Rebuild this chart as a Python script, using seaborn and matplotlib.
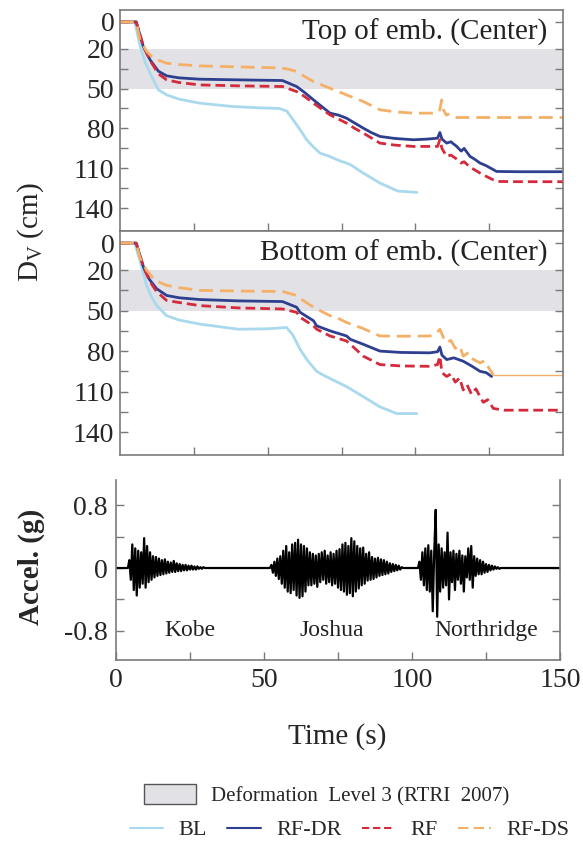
import numpy as np
import pandas as pd
import matplotlib
matplotlib.use("Agg")
import matplotlib.pyplot as plt
import seaborn as sns
from matplotlib.patches import Patch
from matplotlib.lines import Line2D

# ---- settlement, top of embankment (cm) ----
t_bl_top = [0, 5, 6.8, 8.5, 10.2, 13, 15.8, 20, 27, 38, 47, 54, 56.5, 58.6, 61, 63.2, 65.5, 67.7,
            71, 74, 77.9, 82, 85, 88, 91, 94, 97, 100.5]
d_bl_top = [0, 0, 18, 30, 38.5, 51, 54.8, 58, 61, 63.5, 64.5, 65, 67, 73.5, 81, 88.5, 94, 98.5,
            101, 104, 107, 113, 117, 121, 124, 127, 127.5, 128]

t_rf_top = [0, 5.5, 7.9, 10.2, 13, 15.8, 20, 27, 40, 55, 59.8, 62.5, 65.5, 68, 71.1, 74, 76.7, 79.5,
            82.4, 85, 88, 93, 99.3, 104, 107.5, 108.3, 109, 110.6, 112, 114, 115.5, 116.5, 118.5,
            120, 121.9, 124, 127.5, 135, 150]
d_rfdr_top = [0, 0, 18.5, 28.5, 37, 40.5, 42, 43, 43.5, 44, 48.5, 53, 58.5, 63, 68.5, 70, 72.3, 76,
              79.8, 83, 86, 87.5, 88.5, 88, 87.3, 83, 88, 91, 90, 93.5, 97, 95, 101,
              103, 106, 108, 112.3, 112.5, 112.5]
d_rf_top = [0, 0, 18, 29, 39, 43.5, 45.5, 47.3, 48, 48.5, 52.3, 56, 61, 65, 69.8, 73, 76, 80,
            83.5, 87, 91, 92.5, 93.5, 93.5, 93.5, 88.5, 95, 101, 100, 103, 106, 105, 109,
            111, 113.5, 116, 119.8, 120, 120]

t_ds_top_a = [0, 5.5, 6.8, 9, 11.3, 15.8, 20, 27, 44, 54.2, 57, 59.8, 62.5, 65.5, 71.1, 76.7, 82.4,
              88, 93, 99.3, 104, 107.2, 108.3, 108.9, 109.5, 110.5, 111.5]
d_ds_top_a = [0, 0, 13.5, 22, 27.3, 31, 32, 33, 34, 34.5, 35.5, 37.2, 41, 44.8, 49.8, 54.8, 59.8,
              66, 67.5, 68.5, 68.5, 68.5, 66, 58.5, 66, 70, 69]
t_ds_top_b = [113.4, 150]
d_ds_top_b = [71.5, 71.5]

# ---- settlement, bottom of embankment (cm) ----
t_bl_mid = [0, 5, 7, 9, 10.7, 12.4, 15.8, 20, 27, 40, 50, 56.4, 58.5, 61, 63.5, 66.6, 69, 72,
            76.7, 82.4, 88, 93.7, 100.5]
d_bl_mid = [0, 0, 15, 31.3, 40, 46.3, 53.8, 57, 60, 63.8, 63.5, 62.5, 68, 78.8, 87, 95, 98, 101.3,
            106.3, 113.8, 121.3, 126.3, 126.3]

t_rfdr_mid = [0, 5.5, 8, 10, 12.4, 15.8, 20, 27, 40, 55, 59.8, 61, 65.5, 66.6, 71.1, 76.7, 78,
              82.4, 88, 95, 104.9, 107.5, 108.3, 109, 110.6, 113, 116.2, 119, 121.9, 124, 125.8]
d_rfdr_mid = [0, 0, 18, 27, 33.8, 38.8, 40.5, 41.8, 42.8, 43.3, 47.5, 51.3, 57.5, 61.3, 65, 68.8,
              71.3, 75, 80, 81, 81.3, 80.5, 77, 83, 86.3, 85, 87.5, 91, 95, 96, 98.8]

t_rf_mid = [0, 5.5, 8, 10, 12.4, 15.8, 20, 27, 40, 55, 59.8, 61, 65.5, 66.6, 71.1, 76.7, 78, 82.4,
            88, 95, 104.9, 107.5, 108.3, 109, 110.6, 112, 113.5, 115, 116.2, 117.5, 119, 120.5,
            121.9, 123, 124.5, 126.4, 130, 150]
d_rf_mid = [0, 0, 18, 28, 36, 42.5, 44, 46.3, 48, 48.8, 51.3, 55, 61.3, 63.8, 68.8, 72.5, 75, 83.8,
            90, 91, 91.3, 90, 83.8, 96, 98.8, 97, 103, 100, 108.8, 105, 112, 108,
            113.8, 118, 116, 122.5, 123.8, 123.8]

t_ds_mid = [0, 5.5, 6.8, 9, 11.8, 15.8, 20, 27, 40, 55, 59.8, 61, 65.5, 71.1, 72, 76.7, 82, 88,
            95, 104.9, 107, 108.3, 109.5, 110.6, 112, 113.5, 115, 116.2, 118, 119.5, 121.9,
            123.5, 125, 126.4]
d_ds_mid = [0, 0, 11, 20, 27.5, 31.3, 33, 35, 35.5, 35.8, 38.8, 41, 47.5, 53.8, 53.8, 58.8, 63, 68.8,
            69, 68.8, 67, 63.8, 70, 73.8, 72, 78, 76, 83.8, 81, 86, 88.8,
            87, 93, 97.5]
t_ds_mid_tail = [126.4, 150]
d_ds_mid_tail = [97.5, 97.5]

# ---- input acceleration (g), sampled every 0.5 s inside each record ----
kobe_acc = [0.00, 0.10, -0.15, 0.30, -0.28, 0.25, -0.35, 0.22, -0.25, 0.20,
            -0.20, 0.38, -0.25, 0.28, -0.18, 0.20, -0.15, 0.15, -0.12, 0.14,
            -0.10, 0.12, -0.09, 0.10, -0.08, 0.11, -0.07, 0.08, -0.06, 0.07,
            -0.05, 0.09, -0.05, 0.06, -0.04, 0.05, -0.04, 0.04, -0.03, 0.04,
            -0.03, 0.03, -0.02, 0.03, -0.02, 0.02, -0.02, 0.02, -0.01, 0.01,
            -0.01, 0.01, 0.00]
joshua_acc = [0.00, 0.04, -0.06, 0.08, -0.10, 0.12, -0.14, 0.15, -0.20, 0.22,
              -0.25, 0.28, -0.30, 0.20, -0.32, 0.30, -0.28, 0.32, -0.35, 0.36,
              -0.38, 0.30, -0.36, 0.28, -0.30, 0.25, -0.22, 0.20, -0.22, 0.18,
              -0.20, 0.16, -0.24, 0.18, -0.18, 0.20, -0.15, 0.22, -0.20, 0.16,
              -0.18, 0.20, -0.22, 0.18, -0.20, 0.22, -0.25, 0.24, -0.28, 0.30,
              -0.30, 0.32, -0.34, 0.28, -0.32, 0.38, -0.36, 0.34, -0.30, 0.28,
              -0.26, 0.25, -0.22, 0.26, -0.20, 0.18, -0.16, 0.20, -0.15, 0.14,
              -0.14, 0.12, -0.12, 0.13, -0.10, 0.11, -0.09, 0.10, -0.08, 0.08,
              -0.07, 0.06, -0.05, 0.05, -0.04, 0.04, -0.03, 0.03, -0.02, 0.01,
              0.00]
northridge_acc = [0.00, 0.08, -0.15, 0.20, -0.22, 0.25, -0.28, 0.29, -0.30, 0.22,
                  -0.55, 0.20, 0.74, -0.62, 0.30, -0.30, 0.25, -0.25, 0.20, -0.22,
                  0.45, -0.40, 0.20, -0.18, 0.22, -0.28, 0.18, -0.15, 0.22, -0.20,
                  0.16, -0.30, 0.15, -0.12, 0.25, -0.15, 0.28, -0.25, 0.15, -0.10,
                  0.12, -0.08, 0.10, -0.08, 0.08, -0.06, 0.05, -0.05, 0.04, -0.03,
                  0.03, -0.02, 0.02, -0.01, 0.01, -0.01, 0.00]
kobe_start, joshua_start, northridge_start = 4.0, 52.0, 102.0
record_names = ["Kobe", "Joshua", "Northridge"]
record_label_t = [25, 73, 125]

labels = ["BL", "RF-DR", "RF", "RF-DS"]
colors = {"BL": "#a9d9ec", "RF-DR": "#2f3f8f", "RF": "#d42a3c", "RF-DS": "#f3b066"}
dashes = {"BL": "-", "RF-DR": "-", "RF": (0, (3.5, 1.8)), "RF-DS": (0, (5, 2.5))}
band_color = "#e2e2e6"
spine_color = "#7a7a7a"

sns.set_theme(style="ticks")
plt.rcParams["font.family"] = ["Liberation Serif", "DejaVu Serif"]
plt.rcParams["mathtext.fontset"] = "custom"
plt.rcParams["mathtext.rm"] = "Liberation Serif"
plt.rcParams["mathtext.it"] = "Liberation Serif:italic"

fig = plt.figure(figsize=(5.83, 8.58), dpi=100)
ax_top = fig.add_axes([0.2058, 0.7308, 0.760, 0.2576])
ax_mid = fig.add_axes([0.2058, 0.4697, 0.760, 0.2611])
ax_acc = fig.add_axes([0.199, 0.2308, 0.7616, 0.2098])


def draw(ax, t, d, name, lw=2.0):
    sns.lineplot(x=t, y=d, ax=ax, color=colors[name], linestyle=dashes[name], linewidth=lw,
                 estimator=None, sort=False)


def style_settlement(ax, title):
    ax.axhspan(20, 50, color=band_color, lw=0, zorder=0)
    ax.set_xlim(0, 150)
    ax.set_ylim(157, -9)
    ax.set_yticks([0, 20, 50, 80, 110, 140])
    ax.set_yticks([35, 65, 95, 125], minor=True)
    ax.set_xticks([25, 50, 75, 100, 125])
    ax.set_xticklabels([])
    ax.tick_params(axis="both", which="both", direction="in", length=6, width=1,
                   color=spine_color, right=True, labelsize=20, pad=4)
    for s in ax.spines.values():
        s.set_color(spine_color)
        s.set_linewidth(1.2)
    ax.set_xlabel("")
    ax.set_ylabel("")
    ax.text(0.965, 0.96, title, transform=ax.transAxes, ha="right", va="top", fontsize=21,
            color="#222222")


draw(ax_top, t_bl_top, d_bl_top, "BL")
draw(ax_top, t_rf_top, d_rfdr_top, "RF-DR")
draw(ax_top, t_rf_top, d_rf_top, "RF")
draw(ax_top, t_ds_top_a, d_ds_top_a, "RF-DS")
draw(ax_top, t_ds_top_b, d_ds_top_b, "RF-DS")
style_settlement(ax_top, "Top of emb. (Center)")

draw(ax_mid, t_bl_mid, d_bl_mid, "BL")
draw(ax_mid, t_rfdr_mid, d_rfdr_mid, "RF-DR")
draw(ax_mid, t_rf_mid, d_rf_mid, "RF")
draw(ax_mid, t_ds_mid, d_ds_mid, "RF-DS")
sns.lineplot(x=t_ds_mid_tail, y=d_ds_mid_tail, ax=ax_mid, color=colors["RF-DS"], linewidth=1.0,
             estimator=None, sort=False)
style_settlement(ax_mid, "Bottom of emb. (Center)")

# acceleration record
acc_t = [0.0]
acc_v = [0.0]
for start, rec in [(kobe_start, kobe_acc), (joshua_start, joshua_acc), (northridge_start, northridge_acc)]:
    acc_t += list(start + 0.5 * np.arange(len(rec)))
    acc_v += rec
acc_t.append(150.0)
acc_v.append(0.0)
df_acc = pd.DataFrame({"t": acc_t, "a": acc_v})
sns.lineplot(data=df_acc, x="t", y="a", ax=ax_acc, color="black", linewidth=1.6,
             estimator=None, sort=False)
ax_acc.set_xlim(0, 150)
ax_acc.set_ylim(-1.17, 1.12)
ax_acc.set_yticks([-0.8, 0, 0.8])
ax_acc.set_yticklabels(["-0.8", "0", "0.8"])
ax_acc.set_yticks([-0.4, 0.4], minor=True)
ax_acc.set_xticks([0, 50, 100, 150])
ax_acc.set_xticks([25, 75, 125], minor=True)
ax_acc.tick_params(axis="both", which="both", direction="in", length=6, width=1,
                   color=spine_color, right=True, labelsize=20, pad=6)
ax_acc.spines["top"].set_visible(False)
for s in ["left", "right", "bottom"]:
    ax_acc.spines[s].set_color(spine_color)
    ax_acc.spines[s].set_linewidth(1.2)
ax_acc.set_xlabel("")
ax_acc.set_ylabel("")
for name, tx in zip(record_names, record_label_t):
    ax_acc.text(tx, -0.8, name, ha="center", va="center", fontsize=17, color="#222222")

fig.text(0.053, 1 - 232 / 858, r"D$_{\mathrm{V}}$ (cm)", rotation=90, ha="center", va="center",
         fontsize=21)
fig.text(0.053, 1 - 567 / 858, "Accel. (g)", rotation=90, ha="center", va="center",
         fontsize=21, weight="bold")
fig.text(0.578, 1 - 737 / 858, "Time (s)", ha="center", va="center", fontsize=21)

band_handle = [Patch(facecolor=band_color, edgecolor="#555555", linewidth=1,
                     label="Deformation  Level 3 (RTRI  2007)")]
fig.legend(handles=band_handle, loc="center", bbox_to_anchor=(0.56, 1 - 795 / 858),
           frameon=False, fontsize=15, handlelength=2.5, handleheight=1.1, handletextpad=0.7)
line_handles = [Line2D([0], [0], color=colors[n], linestyle=dashes[n], linewidth=1.5, label=n)
                for n in labels]
fig.legend(handles=line_handles, loc="center", bbox_to_anchor=(0.60, 1 - 830 / 858), ncol=4,
           frameon=False, fontsize=16, handlelength=1.5, columnspacing=0.9, handletextpad=0.7)

fig.savefig("out.png", dpi=100)
